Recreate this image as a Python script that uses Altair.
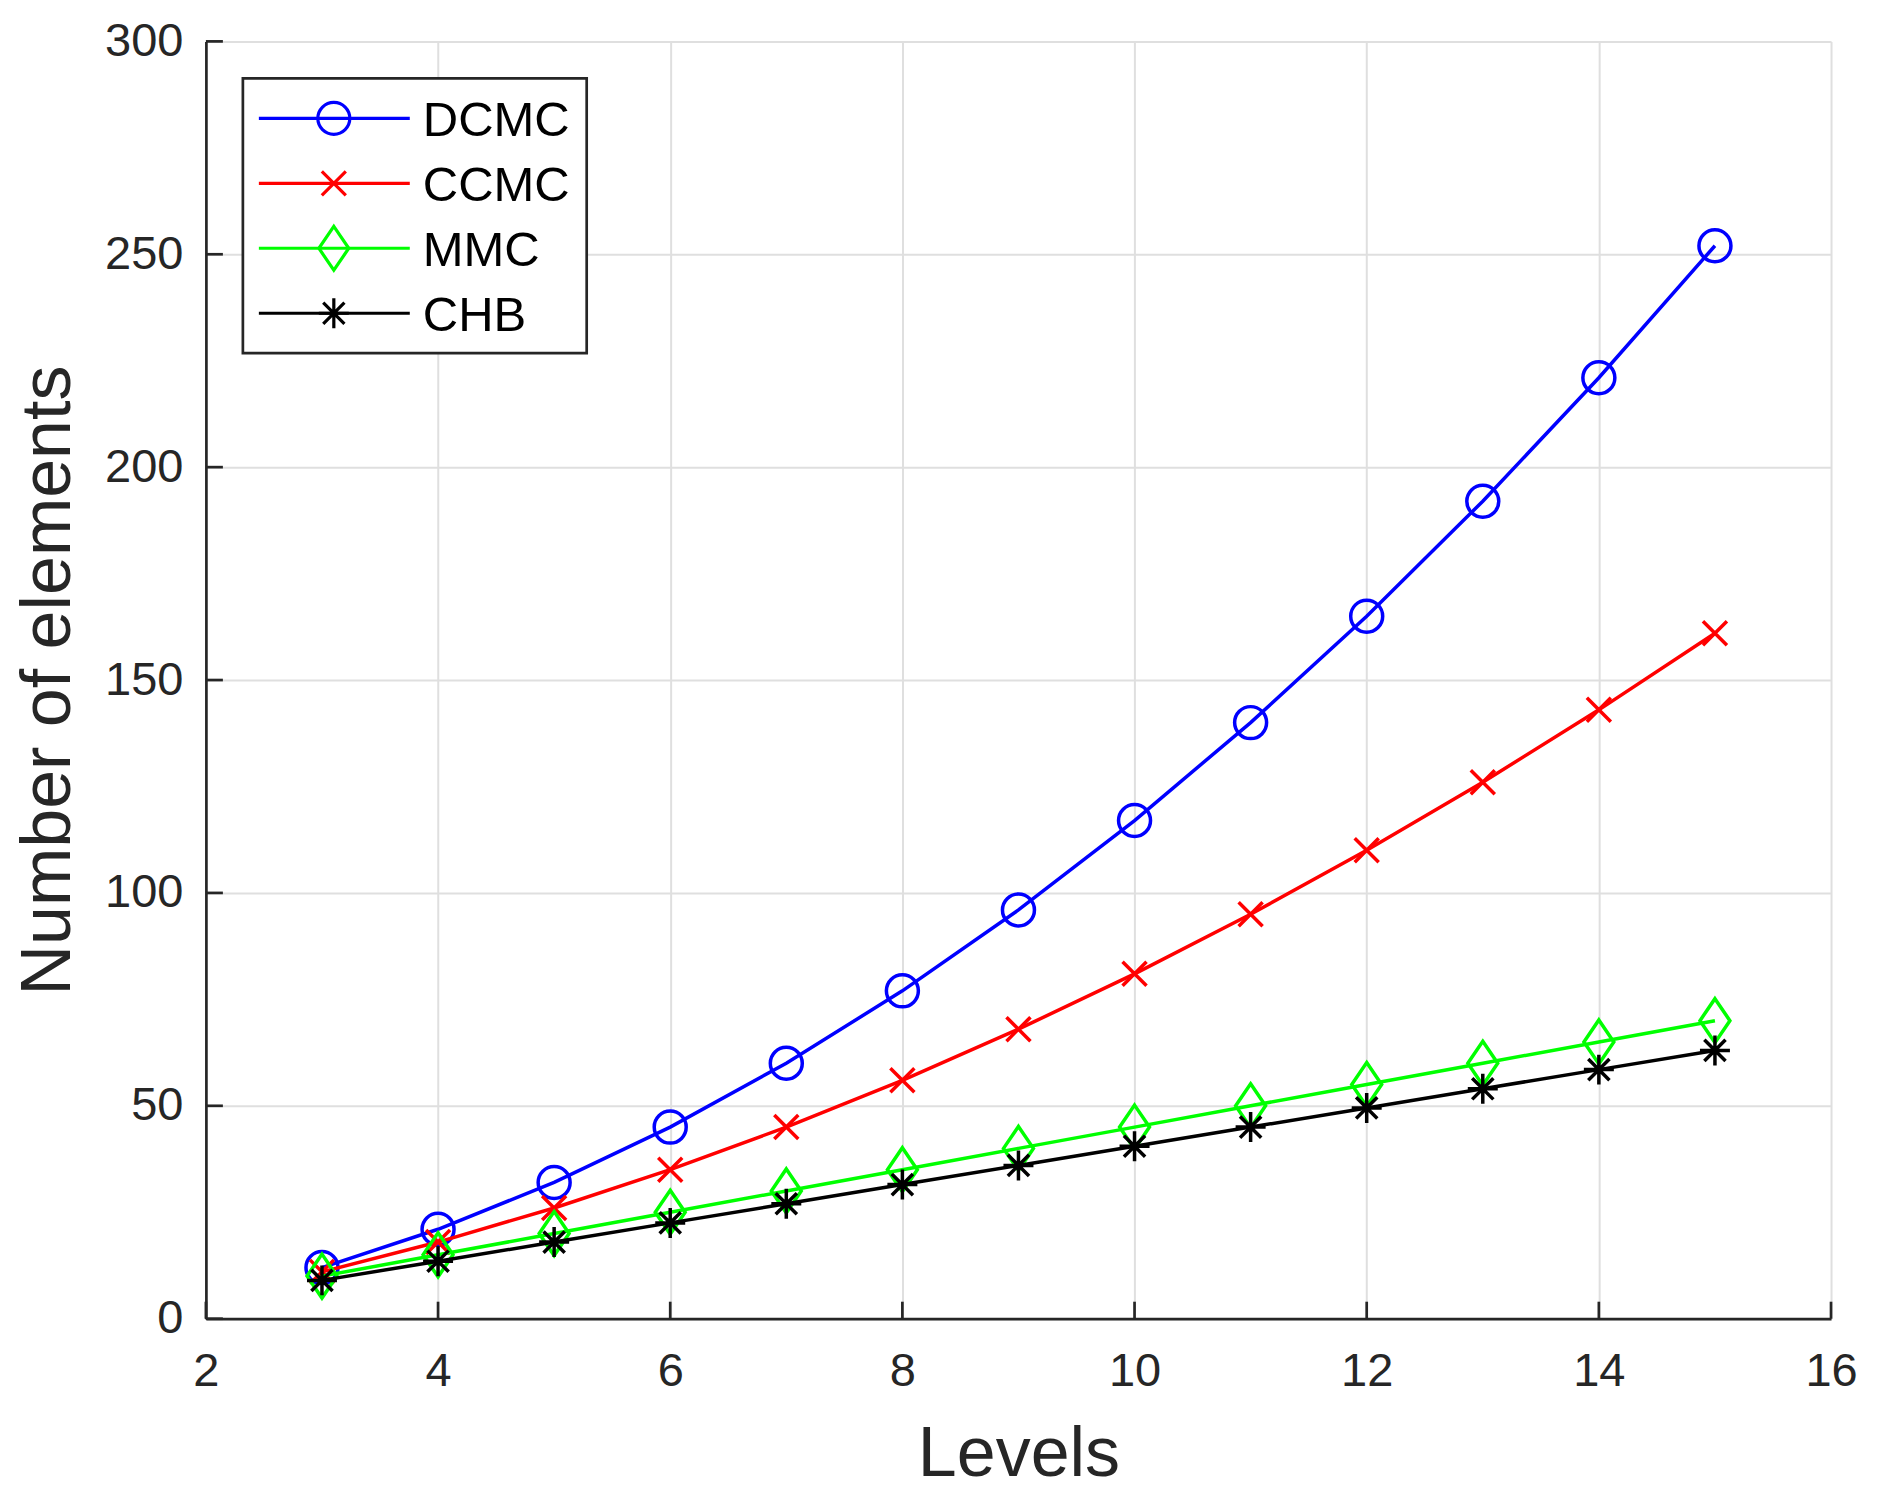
import altair as alt
import pandas as pd

# ---- data ----
levels = [3, 4, 5, 6, 7, 8, 9, 10, 11, 12, 13, 14, 15]
dcmc = [12, 21, 32, 45, 60, 77, 96, 117, 140, 165, 192, 221, 252]
ccmc = [11, 18, 26, 35, 45, 56, 68, 81, 95, 110, 126, 143, 161]
mmc = [10, 15, 20, 25, 30, 35, 40, 45, 50, 55, 60, 65, 70]
chb = [9, 13.5, 18, 22.5, 27, 31.5, 36, 40.5, 45, 49.5, 54, 58.5, 63]

series_names = ["DCMC", "CCMC", "MMC", "CHB"]
series_values = [dcmc, ccmc, mmc, chb]
x_ticks = [2, 4, 6, 8, 10, 12, 14, 16]
y_ticks = [0, 50, 100, 150, 200, 250, 300]

# ---- styles ----
colors = ["#0000ff", "#ff0000", "#00ff00", "#000000"]
shapes = [
    "circle",
    "M-1,-1L1,1M-1,1L1,-1",
    "M0,-1L0.68,0L0,1L-0.68,0Z",
    "M0,-1L0,1M-1,0L1,0M-0.707,-0.707L0.707,0.707M-0.707,0.707L0.707,-0.707",
]
sizes = [1024, 576, 1936, 900]

W, H = 1626, 1278
AX = "#262626"
FONT = "Liberation Sans"

xscale = alt.Scale(domain=[2, 16], nice=False)
yscale = alt.Scale(domain=[0, 300], nice=False)
xaxis = alt.Axis(values=x_ticks, title="Levels", titleX=W / 2, titleY=157,
                 titleBaseline="alphabetic", titleAlign="center",
                 labelPadding=30, format="d", labelFlush=False)
yaxis = alt.Axis(values=y_ticks, title="Number of elements", titleX=-136, titleY=H / 2,
                 titleAngle=270, titleBaseline="alphabetic", titleAlign="center",
                 labelPadding=23, format="d", labelFlush=False)

layers = []
for i, (name, vals) in enumerate(zip(series_names, series_values)):
    df = pd.DataFrame({"level": levels, "value": vals, "series": name})
    base = alt.Chart(df).encode(
        x=alt.X("level:Q", scale=xscale, axis=xaxis),
        y=alt.Y("value:Q", scale=yscale, axis=yaxis),
    )
    layers.append(base.mark_line(color=colors[i], strokeWidth=3.5))
    layers.append(base.mark_point(shape=shapes[i], size=sizes[i], filled=False,
                                  stroke=colors[i], strokeWidth=3.5, opacity=1))

# inward ticks (MATLAB style)
tick_len = 17
xt = alt.Chart(pd.DataFrame({"level": x_ticks})).mark_rule(color=AX, strokeWidth=2.7).encode(
    x=alt.X("level:Q", scale=xscale, axis=xaxis),
    y=alt.value(H), y2=alt.value(H - tick_len))
yt = alt.Chart(pd.DataFrame({"value": y_ticks})).mark_rule(color=AX, strokeWidth=2.7).encode(
    y=alt.Y("value:Q", scale=yscale, axis=yaxis),
    x=alt.value(0), x2=alt.value(tick_len))
layers += [xt, yt]

# legend
one = pd.DataFrame({"k": [0]})
box = alt.Chart(one).mark_rect(fill="white", stroke=AX, strokeWidth=2.7).encode(
    x=alt.value(37), x2=alt.value(381), y=alt.value(37), y2=alt.value(312))
layers.append(box)
for i, name in enumerate(series_names):
    ry = 77 + 65 * i
    d = pd.DataFrame({"series": [name]})
    layers.append(alt.Chart(d).mark_rule(color=colors[i], strokeWidth=3.2).encode(
        x=alt.value(53), x2=alt.value(204), y=alt.value(ry)))
    layers.append(alt.Chart(d).mark_point(shape=shapes[i], size=sizes[i], filled=False,
                                          stroke=colors[i], strokeWidth=3.2, opacity=1).encode(
        x=alt.value(128), y=alt.value(ry)))
    layers.append(alt.Chart(d).mark_text(text=name, align="left", baseline="middle",
                                         font=FONT, fontSize=49, color="#000000", dy=3).encode(
        x=alt.value(217), y=alt.value(ry)))

chart = alt.layer(*layers).properties(
    width=W, height=H,
    autosize=alt.AutoSizeParams(type="none"),
    padding={"left": 198, "top": 33, "right": 40, "bottom": 177},
    background="white",
).configure_view(stroke=None).configure_axis(
    domainColor=AX, domainWidth=2.7, ticks=False, tickSize=0,
    grid=True, gridColor="#dfdfdf", gridWidth=2,
    labelFont=FONT, labelFontSize=47, labelColor=AX,
    titleFont=FONT, titleFontSize=70, titleFontWeight="normal", titleColor=AX,
    labelOverlap=False,
)

chart.save("out.html", embed_options={"renderer": "svg", "actions": False})
